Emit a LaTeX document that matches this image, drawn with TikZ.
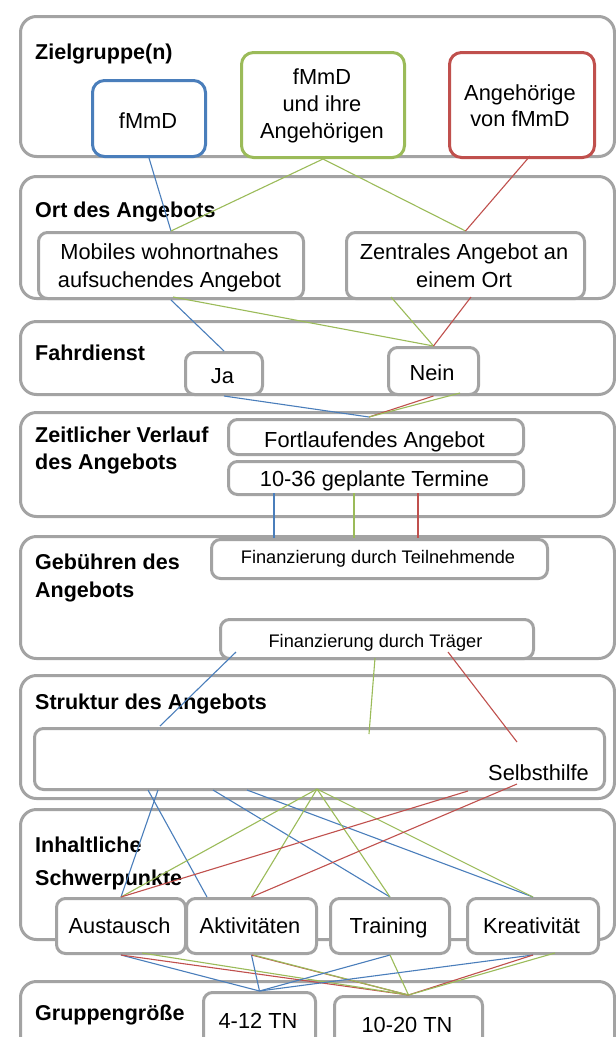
\documentclass[tikz,border=0pt]{standalone}
\usepackage{fontspec}
\setmainfont{Liberation Sans}
\definecolor{obox}{RGB}{163,163,163}
\definecolor{cblue}{RGB}{74,126,187}
\definecolor{cgreen}{RGB}{155,187,89}
\definecolor{cred}{RGB}{192,80,77}
\tikzset{
  outerbox/.style={draw=obox, line width=3pt, rounded corners=16pt, fill=white, inner sep=0pt, anchor=north west},
  innerbox/.style={draw=obox, line width=3pt, rounded corners=9pt, fill=white, inner sep=0pt, anchor=north west},
  colbox/.style={draw=#1, line width=3pt, rounded corners=12pt, fill=white, inner sep=0pt, anchor=north west},
  lab/.style={inner sep=0pt, anchor=base west, font=\fontsize{21.5}{26}\selectfont\bfseries},
  txt/.style={inner sep=0pt, anchor=base, font=\fontsize{21.8}{27}\selectfont},
  smalltxt/.style={inner sep=0pt, anchor=base, font=\fontsize{18.2}{22}\selectfont},
  cb/.style={draw=cblue, line width=1.1pt},
  cg/.style={draw=cgreen, line width=1.1pt},
  cr/.style={draw=cred, line width=1.1pt},
}
\begin{document}
\begin{tikzpicture}[x=1pt,y=-1pt]
\useasboundingbox (0,0) rectangle (616,1037);
\clip (0,0) rectangle (616,1037);
\fill[white] (0,0) rectangle (616,1037);

% outer boxes
\node[outerbox, minimum width=594pt, minimum height=140pt] (o1) at (19,15) {};
\node[outerbox, minimum width=594pt, minimum height=122pt] (o2) at (19,175) {};
\node[outerbox, minimum width=594pt, minimum height=73pt] (o3) at (19,320) {};
\node[outerbox, minimum width=594pt, minimum height=104pt] (o4) at (19,411) {};
\node[outerbox, minimum width=594pt, minimum height=122pt] (o5) at (19,535) {};
\node[outerbox, minimum width=594pt, minimum height=123pt] (o6) at (19,674) {};
\node[outerbox, minimum width=594pt, minimum height=130pt] (o7) at (19,808) {};
\node[outerbox, minimum width=594pt, minimum height=100pt] (o8) at (19,980) {};

% section labels
\node[lab] (l1) at (35,59) {Zielgruppe(n)};
\node[lab] (l2) at (35,217) {Ort des Angebots};
\node[lab] (l3) at (35,360) {Fahrdienst};
\node[lab] (l4a) at (35,442) {Zeitlicher Verlauf};
\node[lab] (l4b) at (35,469) {des Angebots};
\node[lab] (l5a) at (35,569) {Gebühren des};
\node[lab] (l5b) at (35,597) {Angebots};
\node[lab] (l6) at (35,709) {Struktur des Angebots};
\node[lab] (l7a) at (35,852) {Inhaltliche};
\node[lab] (l7b) at (35,885) {Schwerpunkte};
\node[lab] (l8) at (35,1020) {Gruppengröße};

% Zielgruppe boxes
\node[colbox=cblue, minimum width=113pt, minimum height=76pt] (zfm) at (91,79) {};
\node[colbox=cgreen, minimum width=163pt, minimum height=105pt] (zfa) at (240,51) {};
\node[colbox=cred, minimum width=145pt, minimum height=105pt] (zan) at (448,51) {};
\node[txt] (t1) at (148,128) {fMmD};
\node[txt] (t2a) at (322,84) {fMmD};
\node[txt] (t2b) at (322,111) {und ihre};
\node[txt] (t2c) at (322,138) {Angehörigen};
\node[txt] (t3a) at (520,100) {Angehörige};
\node[txt] (t3b) at (520,126) {von fMmD};

% Ort
\node[innerbox, minimum width=265pt, minimum height=66pt] (mob) at (37,231) {};
\node[innerbox, minimum width=238pt, minimum height=66pt] (zen) at (345,231) {};
\node[txt] (t4a) at (169.5,259) {Mobiles wohnortnahes};
\node[txt] (t4b) at (169.5,287) {aufsuchendes Angebot};
\node[txt] (t5a) at (464,259) {Zentrales Angebot an};
\node[txt] (t5b) at (464,287) {einem Ort};

% Fahrdienst
\node[innerbox, minimum width=77pt, minimum height=42pt] (ja) at (184,351) {};
\node[innerbox, minimum width=90pt, minimum height=47pt] (nein) at (387,346) {};
\node[txt] (t6) at (222.5,383) {Ja};
\node[txt] (t7) at (432,380) {Nein};

% Zeitlicher Verlauf
\node[innerbox, minimum width=295pt, minimum height=35pt] (fort) at (227,418) {};
\node[innerbox, minimum width=295pt, minimum height=33pt] (term) at (227,460) {};
\node[txt] (t8) at (374.5,447) {Fortlaufendes Angebot};
\node[txt] (t9) at (374.5,486) {10-36 geplante Termine};

% Gebuehren
\node[innerbox, minimum width=336pt, minimum height=39pt] (teil) at (210,538) {};
\node[innerbox, minimum width=313pt, minimum height=39pt] (traeg) at (219,618) {};
\node[smalltxt] (t10) at (378,563) {Finanzierung durch Teilnehmende};
\node[smalltxt] (t11) at (375.5,647) {Finanzierung durch Träger};

% Struktur
\node[innerbox, minimum width=570pt, minimum height=61pt] (struk) at (33,727) {};
\node[txt, anchor=base east] (t12) at (589,780) {Selbsthilfe};

% Inhaltliche Schwerpunkte
\node[innerbox, minimum width=129pt, minimum height=55pt] (aus) at (55,897) {};
\node[innerbox, minimum width=130pt, minimum height=55pt] (akt) at (185,897) {};
\node[innerbox, minimum width=119pt, minimum height=55pt] (tra) at (329,897) {};
\node[innerbox, minimum width=131pt, minimum height=55pt] (kre) at (466,897) {};
\node[txt] (t13) at (119.5,933) {Austausch};
\node[txt] (t14) at (250,933) {Aktivitäten};
\node[txt] (t15) at (388.5,933) {Training};
\node[txt] (t16) at (531.5,933) {Kreativität};

% Gruppengroesse
\node[innerbox, minimum width=112pt, minimum height=70pt] (g412) at (202,991) {};
\node[innerbox, minimum width=148pt, minimum height=70pt] (g1020) at (333,995) {};
\node[txt] (t17) at (258,1028) {4-12 TN};
\node[txt] (t18) at (407,1032) {10-20 TN};

% connector end points
\coordinate (rz) at (530,156);
\coordinate (mobg) at (173,297);
\coordinate (zeng) at (391,297);
\coordinate (zenr) at (471,297);
\coordinate (neing) at (460,393);
\coordinate (forttop) at (369,417);
\coordinate (tb) at (274,493);
\coordinate (tg) at (354,493);
\coordinate (tr) at (418,493);
\coordinate (pb) at (274,538);
\coordinate (pg) at (354,538);
\coordinate (pr) at (418,538);
\coordinate (trb) at (236,652);
\coordinate (trg) at (375,658);
\coordinate (trr) at (448,652);
\coordinate (sb) at (160,726);
\coordinate (sg) at (369,734);
\coordinate (sr) at (517,742);
\coordinate (sb1) at (148,790);
\coordinate (sb2) at (158,790);
\coordinate (sb3) at (213,790);
\coordinate (sb4) at (247,790);
\coordinate (sgx) at (317,789);
\coordinate (sr1) at (468,791);
\coordinate (sr2) at (517,784);
\coordinate (aktb) at (207,897);
\coordinate (ausg) at (142,953);
\coordinate (kreg) at (555,953);

% connectors Zielgruppe -> Ort
\draw[cb] (zfm.south) -- (mob.north);
\draw[cg] (zfa.south) -- (mob.north);
\draw[cg] (zfa.south) -- (zen.north);
\draw[cr] (rz) -- (zen.north);
% Ort -> Fahrdienst
\draw[cb] (mob.south) -- (ja.north);
\draw[cg] (mobg) -- (nein.north);
\draw[cg] (zeng) -- (nein.north);
\draw[cr] (zenr) -- (nein.north);
% Fahrdienst -> Zeitlicher Verlauf
\draw[cb] (ja.south) -- (forttop);
\draw[cr] (nein.south) -- (forttop);
\draw[cg] (neing) -- (forttop);
% Zeitlicher Verlauf -> Gebuehren
\draw[cb] (tb) -- (pb);
\draw[cg] (tg) -- (pg);
\draw[cr] (tr) -- (pr);
% Gebuehren -> Struktur
\draw[cb] (trb) -- (sb);
\draw[cg] (trg) -- (sg);
\draw[cr] (trr) -- (sr);
% Struktur -> Inhaltliche Schwerpunkte
\draw[cb] (sb1) -- (aktb);
\draw[cb] (sb2) -- (aus.north);
\draw[cb] (sb3) -- (tra.north);
\draw[cb] (sb4) -- (kre.north);
\draw[cg] (sgx) -- (aus.north);
\draw[cg] (sgx) -- (akt.north);
\draw[cg] (sgx) -- (tra.north);
\draw[cg] (sgx) -- (kre.north);
\draw[cr] (sr1) -- (aus.north);
\draw[cr] (sr2) -- (akt.north);
% Inhaltliche Schwerpunkte -> Gruppengroesse
\draw[cb] (aus.south) -- (g412.north);
\draw[cr] (aus.south) -- (g1020.north);
\draw[cg] (ausg) -- (g1020.north);
\draw[cb] (akt.south) -- (g412.north);
\draw[cr] (akt.south) -- (g1020.north);
\draw[cg] ([xshift=2pt]akt.south) -- (g1020.north);
\draw[cb] (tra.south) -- (g412.north);
\draw[cg] (tra.south) -- (g1020.north);
\draw[cb] (kre.south) -- (g412.north);
\draw[cr] (kre.south) -- (g1020.north);
\draw[cg] (kreg) -- (g1020.north);
\end{tikzpicture}
\end{document}
